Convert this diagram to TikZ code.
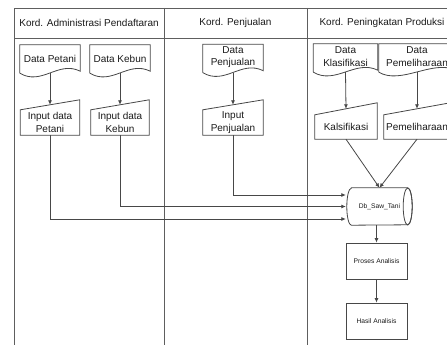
\documentclass[tikz,border=0pt]{standalone}
\usepackage{fontspec}
\setmainfont{Liberation Sans}
\usetikzlibrary{arrows.meta,calc}
\definecolor{ink}{HTML}{474747}
\definecolor{lane}{HTML}{5E5E5E}
\definecolor{txt}{HTML}{1A1A1A}
% document symbol: straight top and sides, wavy bottom edge
% (optional argument: how far the wavy edge hangs below the node)
\newcommand\docoutline[2][0]{%
  \draw[shapeline] ($(#2.south west)+(0,-#1)$) -- (#2.north west) -- (#2.north east)
    -- ($(#2.south east)+(0,2-#1)$)
    .. controls ($(#2.south east)+(-22,13-#1)$) and ($(#2.south west)+(22,-13-#1)$)
    .. ($(#2.south west)+(0,-#1)$);}
% manual input symbol: top edge rising to the right
\newcommand\inputoutline[2]{%
  \draw[shapeline] (#1.south west) -- (#1.north west) -- ($(#1.north east)+(0,#2)$)
    -- (#1.south east) -- cycle;}
% stored data symbol lying on its side
\newcommand\dboutline[1]{%
  \draw[shapeline] ($(#1.north west)+(4.5,0)$) -- ($(#1.north east)+(-4.5,0)$)
    arc[start angle=90,end angle=-90,x radius=4.5,y radius=18.5]
    -- ($(#1.south west)+(4.5,0)$)
    arc[start angle=270,end angle=90,x radius=4.5,y radius=18.5] -- cycle;
  \draw[shapeline] ($(#1.east)+(-4.5,0)$) ellipse[x radius=4.5,y radius=18.5];}
\begin{document}
\begin{tikzpicture}[x=1pt,y=1pt,
  every node/.style={text=txt, font=\fontsize{10}{12.5}\selectfont, inner sep=1pt, align=center},
  shapeline/.style={draw=ink, line width=0.8pt},
  laneline/.style={draw=lane, line width=0.8pt},
  flow/.style={draw=ink, line width=0.8pt, -{Latex[length=4.5pt,width=4pt]}},
  docbox/.style={minimum width=#1, minimum height=28},
  twoline/.style={minimum height=25},
  inbox/.style={minimum width=#1, minimum height=25},
  small/.style={font=\fontsize{6.7}{8}\selectfont},
  procbox/.style={draw=ink, line width=0.8pt, minimum width=61, minimum height=36, small}]
\useasboundingbox (0,0) rectangle (447,-345);
\clip (0,0) rectangle (447,-345);

% swimlane frame
\draw[laneline] (14,-350) -- (14,-8) -- (470,-8);
\draw[laneline] (14,-38) -- (470,-38);
\draw[laneline] (164,-8) -- (164,-350);
\draw[laneline] (307,-8) -- (307,-350);
\node (h1) at (89,-23) {Kord. Administrasi Pendaftaran};
\node (h2) at (235.5,-23) {Kord. Penjualan};
\node (h3) at (382,-23) {Kord. Peningkatan Produksi};

% source documents
\node[docbox=60] (dP) at (50,-59) {Data Petani};
\node[docbox=60] (dK) at (120,-59) {Data Kebun};
\node[docbox=60,twoline] (dJ) at (233,-57) {Data\\Penjualan};
\node[docbox=64,twoline] (dL) at (345.5,-56.5) {Data\\Klasifikasi};
\node[docbox=76,twoline] (dM) at (417,-56.5) {Data\\Pemeliharaan};
\foreach \d in {dP,dK} {\docoutline{\d}}
\foreach \d in {dJ,dL,dM} {\docoutline[3]{\d}}

% manual inputs
\node[inbox=59] (iP) at (50,-122.5) {Input data\\Petani};
\node[inbox=58] (iK) at (120,-122.5) {Input data\\Kebun};
\node[inbox=60] (iJ) at (233,-122.5) {Input\\Penjualan};
\node[inbox=62,minimum height=24] (iL) at (346,-127) {Kalsifikasi};
\node[inbox=66,minimum height=24] (iM) at (417,-127) {Pemeliharaan};
\foreach \i in {iP,iK,iJ} {\inputoutline{\i}{10}}
\foreach \i in {iL,iM} {\inputoutline{\i}{12}}

% database and analysis steps
\node[minimum width=65, minimum height=37, small] (db) at (379.5,-206.5) {Db\_Saw\_Tani};
\dboutline{db}
\node[procbox] (pa) at (376.5,-261) {Proses Analisis};
\node[procbox] (ha) at (376.5,-321) {Hasil Analisis};

% flows
\draw[flow] (dP.south) -- ([yshift=5]iP.north);
\draw[flow] (dK.south) -- ([yshift=5]iK.north);
\draw[flow] ([yshift=-3]dJ.south) -- ([yshift=5]iJ.north);
\draw[flow] ([yshift=-3]dL.south) -- ([yshift=6]iL.north);
\draw[flow] ([yshift=-3]dM.south) -- ([yshift=6]iM.north);
\draw[flow] (iP.south) |- ([yshift=-12.5,xshift=-1]db.west);
\draw[flow] (iK.south) |- ([xshift=-1]db.west);
\draw[flow] (iJ.south) |- ([yshift=11.5,xshift=-1]db.west);
\draw[flow] (iL.south) -- (db.north);
\draw[flow] (iM.south) -- (db.north);
\draw[flow] (pa.north |- db.south) -- (pa.north);
\draw[flow] (pa.south) -- (ha.north);
\end{tikzpicture}
\end{document}
